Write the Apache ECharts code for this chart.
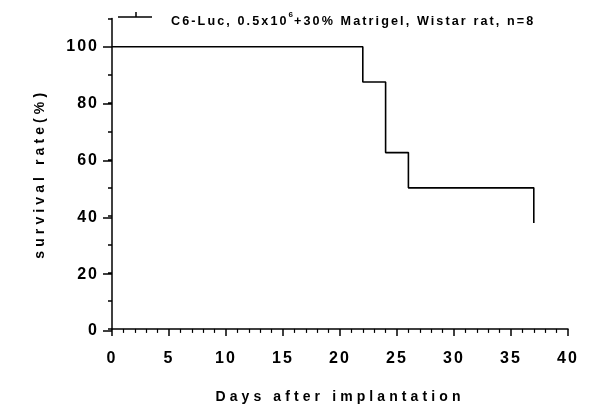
<!DOCTYPE html>
<html>
<head>
<meta charset="utf-8">
<script src="https://cdn.jsdelivr.net/npm/echarts@6/dist/echarts.min.js"></script>
<style>html,body{margin:0;padding:0;background:#fff}#c{width:590px;height:411px}</style>
</head>
<body>
<div id="c"></div>
<script>
// ---- data ----
const days = [0, 22, 24, 26, 37];
const survival = [100, 87.5, 62.5, 50, 37.5];
const xTicks = [0, 5, 10, 15, 20, 25, 30, 35, 40];
const yTicks = [0, 20, 40, 60, 80, 100];
const legendMain1 = 'C6-Luc, 0.5x10';
const legendSup = '6';
const legendMain2 = '+30% Matrigel, Wistar rat, n=8';

// letter spacing per font size (GraphPad-like spaced text)
const spacingBySize = {16: 2, 14: 4.1, 13: 2.1, 8: 1};
(function () {
  const proto = CanvasRenderingContext2D.prototype;
  const desc = Object.getOwnPropertyDescriptor(proto, 'font');
  if (!desc || !('letterSpacing' in proto)) return;
  Object.defineProperty(proto, 'font', {
    configurable: true,
    get() { return desc.get.call(this); },
    set(v) {
      desc.set.call(this, v);
      const m = /(\d+(?:\.\d+)?)px/.exec(v);
      const s = m ? (spacingBySize[Math.round(+m[1])] || 0) : 0;
      this.letterSpacing = s + 'px';
    }
  });
})();

const FONT = 'Liberation Sans, Arial, Helvetica, sans-serif';
const chart = echarts.init(document.getElementById('c'), null, {renderer: 'canvas'});

const axisTop = 18.6, axisBottom = 80, left = 112, right = 22;
const plotH = 411 - axisTop - axisBottom;
const top100 = axisTop + plotH * 10 / 110;

chart.setOption({
  animation: false,
  backgroundColor: '#fff',
  textStyle: {fontFamily: FONT},
  grid: [
    {left: left, right: right, top: axisTop, bottom: axisBottom},
    {left: left, right: right, top: top100, bottom: axisBottom}
  ],
  xAxis: [{
    type: 'value', gridIndex: 0, min: xTicks[0], max: xTicks[xTicks.length - 1], interval: xTicks[1] - xTicks[0],
    axisLine: {show: true, lineStyle: {color: '#000', width: 1.5}},
    axisTick: {show: true, length: 7, lineStyle: {color: '#000', width: 1.5}},
    minorTick: {show: true, splitNumber: 5, length: 4, lineStyle: {color: '#000', width: 1.2}},
    splitLine: {show: false},
    axisLabel: {color: '#000', fontSize: 16, fontWeight: 'bold', fontFamily: FONT, margin: 21},
    name: 'Days after implantation', nameLocation: 'middle', nameGap: 59,
    nameTextStyle: {color: '#000', fontSize: 14, fontWeight: 'bold', fontFamily: FONT}
  }, {
    type: 'value', gridIndex: 1, min: 0, max: 40, show: false
  }],
  yAxis: [{
    type: 'value', gridIndex: 0, min: 0, max: 110, interval: 10,
    axisLine: {show: true, lineStyle: {color: '#000', width: 1.5}},
    axisTick: {show: true, length: 4, lineStyle: {color: '#000', width: 1.5}},
    axisLabel: {show: false},
    splitLine: {show: false},
    name: 'survival rate(%)', nameLocation: 'middle', nameGap: 63,
    nameTextStyle: {color: '#000', fontSize: 14, fontWeight: 'bold', fontFamily: FONT}
  }, {
    type: 'value', gridIndex: 1, min: yTicks[0], max: yTicks[yTicks.length - 1], interval: yTicks[1] - yTicks[0],
    axisLine: {show: false},
    axisTick: {show: true, length: 9, lineStyle: {color: '#000', width: 1.5}},
    axisLabel: {color: '#000', fontSize: 16, fontWeight: 'bold', fontFamily: FONT, margin: 13},
    splitLine: {show: false}
  }],
  series: [{
    type: 'line', xAxisIndex: 0, yAxisIndex: 0, step: 'end',
    data: days.map((d, i) => [d, survival[i]]),
    showSymbol: false, symbol: 'none',
    lineStyle: {color: '#000', width: 1.6},
    z: 5
  }],
  graphic: [
    {type: 'line', shape: {x1: 118, y1: 17, x2: 152, y2: 17}, style: {stroke: '#000', lineWidth: 1.5}},
    {type: 'line', shape: {x1: 136, y1: 12, x2: 136, y2: 17}, style: {stroke: '#000', lineWidth: 1.5}},
    {type: 'text', x: 171, y: 10.5, style: {
      text: '{a|' + legendMain1 + '}{s|' + legendSup + '}{a|' + legendMain2 + '}',
      align: 'left', verticalAlign: 'top', textAlign: 'left', textVerticalAlign: 'top',
      fill: '#000',
      rich: {
        a: {fontSize: 12.6, fontWeight: 'bold', fontFamily: FONT, lineHeight: 22, verticalAlign: 'middle', fill: '#000', color: '#000'},
        s: {fontSize: 8, fontWeight: 'bold', fontFamily: FONT, lineHeight: 8, verticalAlign: 'top', fill: '#000', color: '#000'}
      }
    }}
  ]
});
</script>
</body>
</html>
